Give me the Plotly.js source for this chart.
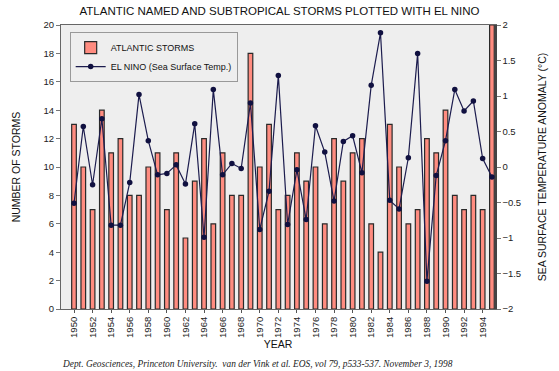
<!DOCTYPE html>
<html>
<head>
<meta charset="utf-8">
<script src="https://cdn.plot.ly/plotly-3.0.1.min.js"></script>
<style>html,body{margin:0;padding:0;background:#fff;}#chart{width:559px;height:371px;}</style>
</head>
<body>
<div id="chart"></div>
<script>
const years = [1950,1951,1952,1953,1954,1955,1956,1957,1958,1959,1960,1961,1962,1963,1964,1965,1966,1967,1968,1969,1970,1971,1972,1973,1974,1975,1976,1977,1978,1979,1980,1981,1982,1983,1984,1985,1986,1987,1988,1989,1990,1991,1992,1993,1994,1995];
const storms = [13,10,7,14,11,12,8,8,10,11,7,11,5,9,12,6,11,8,8,18,10,13,7,8,11,9,10,6,12,9,11,12,6,4,13,10,6,7,12,11,14,8,7,8,7,20];
const elnino = [-0.51,0.57,-0.25,0.68,-0.82,-0.82,-0.22,1.02,0.37,-0.11,-0.09,0.03,-0.24,0.61,-0.99,1.09,-0.11,0.05,-0.02,0.90,-0.88,-0.34,1.29,-0.81,-0.04,-0.74,0.58,0.21,-0.48,0.36,0.44,-0.08,1.15,1.89,-0.47,-0.59,0.13,1.60,-1.61,-0.12,0.37,1.09,0.79,0.93,0.12,-0.14];
const tickYears = [1950,1952,1954,1956,1958,1960,1962,1964,1966,1968,1970,1972,1974,1976,1978,1980,1982,1984,1986,1988,1990,1992,1994];

const fam = 'Liberation Sans, Arial, sans-serif';
const font = {family: fam, size: 9.5, color: '#222'};
const titleFont = {family: fam, size: 10.5, color: '#111'};

const traces = [
  {type:'bar', x: years, y: storms, name:'ATLANTIC STORMS', width: 0.5,
   marker:{color:'#ff8c80', line:{color:'#2a2a2a', width:1.2}}, yaxis:'y'},
  {type:'scatter', mode:'lines+markers', x: years, y: elnino, name:'EL NINO (Sea Surface Temp.)',
   line:{color:'#1c1c4e', width:1.2}, marker:{color:'#101040', size:5.5}, yaxis:'y2'}
];

const layout = {
  width:559, height:371,
  margin:{l:61, r:64, t:25, b:62},
  paper_bgcolor:'#ffffff', plot_bgcolor:'#eeeeee',
  font: font,
  showlegend:true,
  legend:{x:0.02, y:0.975, xanchor:'left', yanchor:'top', bgcolor:'#eeeeee', bordercolor:'#999', borderwidth:1,
          font:{family:fam, size:9, color:'#111'}, tracegroupgap:0},
  title:{text:'ATLANTIC NAMED AND SUBTROPICAL STORMS PLOTTED WITH EL NINO', x:0.5, xanchor:'center', y:0.97, yanchor:'middle',
         font:{family:fam, size:11.5, color:'#111'}},
  xaxis:{range:[1948.6,1995.33], tickvals: tickYears, ticktext: tickYears.map(String), tickangle:-90,
         ticks:'outside', ticklen:3, tickcolor:'#555', showgrid:false, zeroline:false,
         showline:true, linecolor:'#666', linewidth:1, mirror:true,
         title:{text:'YEAR', font:titleFont, standoff:3}},
  yaxis:{range:[0,20], dtick:2, ticks:'outside', ticklen:4, tickcolor:'#777', showgrid:false, zeroline:false,
         showline:true, linecolor:'#666', linewidth:1,
         title:{text:'NUMBER OF STORMS', font:titleFont, standoff:20}},
  yaxis2:{range:[-2,2], dtick:0.5, overlaying:'y', side:'right', ticks:'outside', ticklen:4, tickcolor:'#777',
          showgrid:false, zeroline:false, showline:true, linecolor:'#444', linewidth:1.5,
          title:{text:'SEA SURFACE TEMPERATURE ANOMALY (°C)', font:titleFont, standoff:18}},
  annotations:[{text:'Dept. Geosciences, Princeton University.  van der Vink et al. EOS, vol 79, p533-537. November 3, 1998',
    xref:'paper', yref:'paper', x:0.452, y:-0.194, xanchor:'center', yanchor:'middle', showarrow:false,
    font:{family:'Liberation Serif, Times New Roman, serif', size:9.4, color:'#222', style:'italic'}}]
};

Plotly.newPlot('chart', traces, layout, {displayModeBar:false, staticPlot:true});
</script>
</body>
</html>
